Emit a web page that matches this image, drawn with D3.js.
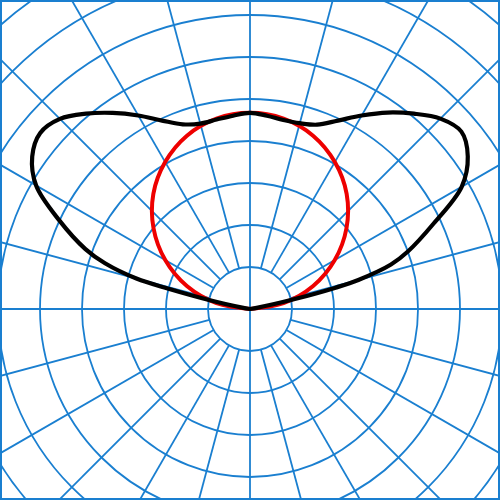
<!DOCTYPE html>
<html>
<head>
<meta charset="utf-8">
<script src="https://cdn.jsdelivr.net/npm/d3@7"></script>
<style>
  html, body { margin: 0; padding: 0; background: #fff; }
  svg { display: block; }
</style>
</head>
<body>
<div id="chart"></div>
<script>
// polar grid: rings every 100 cd, spokes every 15 degrees
var ringValues = [100, 200, 300, 400, 500, 600, 700, 800, 900, 1000];
var spokeAngles = d3.range(0, 360, 15);

// measured curve (angle in degrees from the upward vertical, value in cd)
var curveAngles = [-90, -80, -77.5, -76, -75, -72.5, -70, -65, -60, -55, -50, -45, -40, -35, -30, -25, -20, -15, -10, -5,
                   0, 5, 10, 15, 20, 25, 30, 35, 40, 45, 50, 55, 60, 65, 70, 72.5, 75, 76, 77.5, 80, 90];
var curveValues = [0, 19, 100, 200, 280, 362, 417, 502, 588, 633, 652, 640, 607, 570, 532, 495, 468, 457, 458, 462,
                   467, 462, 457, 458, 467, 495, 532, 571, 607, 641, 657, 633, 582, 483, 400, 352, 267, 210, 107, 19, 0];

// reference (cosine) curve
var cosAngles = [-90, -80, -70, -60, -50, -40, -30, -20, -10, 0, 10, 20, 30, 40, 50, 60, 70, 80, 90];
var cosValues = [0, 81, 160, 233, 300, 358, 404, 439, 460, 467, 460, 439, 404, 358, 300, 233, 160, 81, 0];

var width = 500, height = 500;
var cx = 250, cy = 309;
var gridColor = "#1a7fd0";

var svg = d3.select("#chart").append("svg")
  .attr("width", width)
  .attr("height", height);

svg.append("clipPath").attr("id", "clip")
  .append("rect").attr("x", 0).attr("y", 0).attr("width", width).attr("height", height);

var r = d3.scaleLinear().domain([0, 100]).range([0, 42]);

var g = svg.append("g")
  .attr("clip-path", "url(#clip)")
  .append("g")
  .attr("transform", "translate(" + cx + "," + cy + ")");

// rings
g.selectAll("circle.ring")
  .data(ringValues)
  .enter().append("circle")
  .attr("class", "ring")
  .attr("r", function(d) { return r(d); })
  .attr("fill", "none")
  .attr("stroke", gridColor)
  .attr("stroke-width", 1.8);

// spokes (the four axes run through the centre)
g.selectAll("line.spoke")
  .data(spokeAngles)
  .enter().append("line")
  .attr("class", "spoke")
  .each(function(a) {
    var rad = a * Math.PI / 180;
    var inner = (a % 90 === 0) ? 0 : r(100);
    var outer = r(1500);
    d3.select(this)
      .attr("x1", inner * Math.sin(rad)).attr("y1", -inner * Math.cos(rad))
      .attr("x2", outer * Math.sin(rad)).attr("y2", -outer * Math.cos(rad));
  })
  .attr("stroke", gridColor)
  .attr("stroke-width", 1.8);

var radial = d3.lineRadial()
  .angle(function(d) { return d[0] * Math.PI / 180; })
  .radius(function(d) { return r(d[1]); })
  .curve(d3.curveCatmullRom.alpha(0.5));

g.append("path")
  .datum(d3.zip(cosAngles, cosValues))
  .attr("d", radial)
  .attr("fill", "none")
  .attr("stroke", "#ee0000")
  .attr("stroke-width", 4)
  .attr("stroke-linejoin", "round");

g.append("path")
  .datum(d3.zip(curveAngles, curveValues))
  .attr("d", radial)
  .attr("fill", "none")
  .attr("stroke", "#000")
  .attr("stroke-width", 4.2)
  .attr("stroke-linejoin", "round")
  .attr("stroke-linecap", "round");

// frame
svg.append("rect")
  .attr("x", 1).attr("y", 1)
  .attr("width", width - 2).attr("height", height - 2)
  .attr("fill", "none")
  .attr("stroke", gridColor)
  .attr("stroke-width", 2);
</script>
</body>
</html>
